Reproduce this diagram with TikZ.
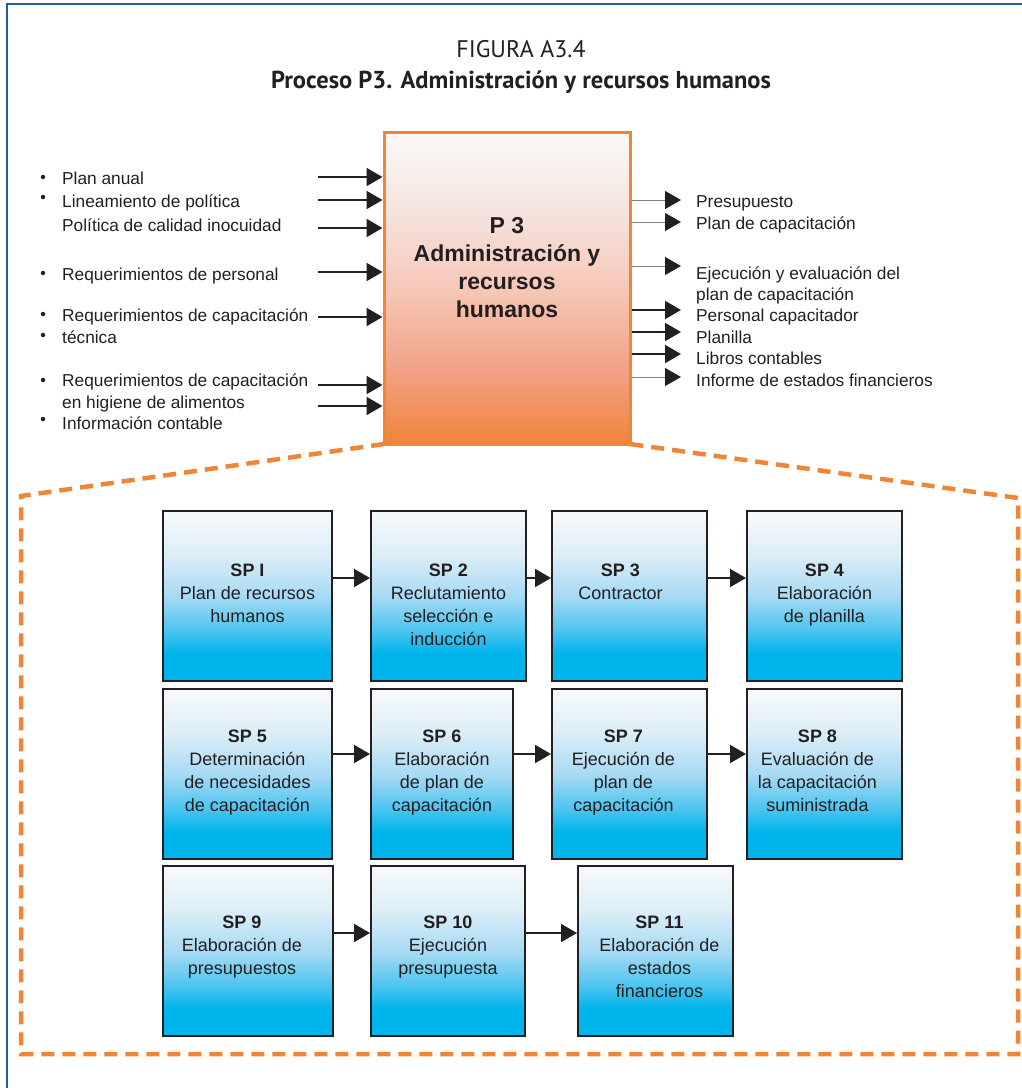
\documentclass[tikz,border=0pt]{standalone}
\usepackage{fontspec}
\setmainfont{Liberation Sans}
\newfontfamily\titlefont{PT Sans}
\usetikzlibrary{arrows.meta, positioning}

\definecolor{frameblue}{RGB}{32,92,162}
\definecolor{dashorange}{RGB}{240,133,53}
\definecolor{inkgray}{RGB}{35,31,32}
\definecolor{ptop}{HTML}{FAFAFA}
\definecolor{pmidA}{HTML}{F5E3DD}
\definecolor{pmidB}{HTML}{F6C8B8}
\definecolor{pmidC}{HTML}{F2A286}
\definecolor{pbot}{HTML}{F0843A}
\definecolor{stop}{HTML}{F8FAFC}
\definecolor{smidA}{HTML}{DCEEF7}
\definecolor{smidB}{HTML}{A8DAF4}
\definecolor{smidC}{HTML}{4EC5F0}
\definecolor{sbot}{HTML}{00B4EC}

\pgfdeclareverticalshading{pthreeshade}{100bp}{color(0bp)=(pbot); color(25bp)=(pbot); color(37bp)=(pmidC); color(50bp)=(pmidB); color(62bp)=(pmidA); color(75bp)=(ptop); color(100bp)=(ptop)}
\pgfdeclareverticalshading{spshade}{100bp}{color(0bp)=(sbot); color(25bp)=(sbot); color(33bp)=(sbot); color(40bp)=(smidC); color(50bp)=(smidB); color(62bp)=(smidA); color(75bp)=(stop); color(100bp)=(stop)}

\tikzset{
  pbox/.style={draw=dashorange, line width=3pt, shade, shading=pthreeshade, inner sep=0pt,
    minimum width=246pt, minimum height=312pt},
  ptext/.style={font=\fontsize{23}{28}\selectfont\bfseries, text=inkgray, align=center, inner sep=0pt},
  spbox/.style={draw=inkgray, line width=2pt, shade, shading=spshade, inner sep=0pt, minimum height=170pt},
  sptext/.style={font=\fontsize{18}{23}\selectfont, text=inkgray, align=center, inner sep=0pt},
  iotext/.style={font=\fontsize{17.3}{22}\selectfont, text=inkgray, anchor=base west, inner sep=0pt},
  bul/.style={circle, fill=inkgray, inner sep=0pt, minimum size=4.5pt},
  inarr/.style={line width=2pt, draw=inkgray, -{Triangle[length=16pt, width=18pt, color=inkgray]}},
  outthin/.style={line width=1pt, draw=gray, -{Triangle[length=16pt, width=18pt, color=inkgray]}},
  dashline/.style={draw=dashorange, line width=4.5pt, dash pattern=on 13pt off 8pt}
}

\begin{document}
\begin{tikzpicture}[x=1pt, y=-1pt]
  \useasboundingbox (0,0) rectangle (1022,1088);
  \draw[frameblue, line width=2.5pt] (7,4) rectangle (1060,1120);

  % titles
  \node[font=\titlefont\fontsize{24}{26}\selectfont, text=inkgray, anchor=base] (fig) at (521,57) {FIGURA A3.4};
  \node[font=\titlefont\fontsize{24.5}{28}\selectfont\bfseries, text=inkgray, anchor=base] (proc) at (521,88) {Proceso P3. Administración y recursos humanos};

  % dashed zoom outline
  \coordinate (dl) at (21,496);
  \coordinate (dr) at (1018,498);
  \draw[dashline] (384,444) -- (dl) -- (21,1054) -- (1018,1054) -- (dr) -- (630,444);

  % main process
  \node[pbox] (p3) at (507,288) {};
  \node[ptext, below=87pt of p3.north] (p3t) {P 3\\Administración y\\recursos\\humanos};

  % inputs
  \coordinate (in1) at (318,177);
  \coordinate (in2) at (318,200);
  \coordinate (in3) at (318,228);
  \coordinate (in4) at (318,272);
  \coordinate (in5) at (318,317);
  \coordinate (in6) at (318,385);
  \coordinate (in7) at (318,406);
  \draw[inarr] (in1) -- (in1 -| p3.west);
  \draw[inarr] (in2) -- (in2 -| p3.west);
  \draw[inarr] (in3) -- (in3 -| p3.west);
  \draw[inarr] (in4) -- (in4 -| p3.west);
  \draw[inarr] (in5) -- (in5 -| p3.west);
  \draw[inarr] (in6) -- (in6 -| p3.west);
  \draw[inarr] (in7) -- (in7 -| p3.west);

  \node[bul] (b1) at (43,177) {};
  \node[bul] (b2) at (43,197) {};
  \node[bul] (b4) at (43,273) {};
  \node[bul] (b5) at (43,314) {};
  \node[bul] (b6) at (43,335) {};
  \node[bul] (b7) at (43,380) {};
  \node[bul] (b9) at (43,419) {};
  \node[iotext] (ia) at (62,184) {Plan anual};
  \node[iotext] (ib) at (62,207) {Lineamiento de política};
  \node[iotext] (ic) at (62,231) {Política de calidad inocuidad};
  \node[iotext] (id) at (62,280) {Requerimientos de personal};
  \node[iotext] (ie) at (62,321) {Requerimientos de capacitación};
  \node[iotext] (if) at (62,343) {técnica};
  \node[iotext] (ig) at (62,386) {Requerimientos de capacitación};
  \node[iotext] (ih) at (62,408) {en higiene de alimentos};
  \node[iotext] (ii) at (62,429) {Información contable};

  % outputs
  \coordinate (out1) at (681,200);
  \coordinate (out2) at (681,222);
  \coordinate (out3) at (681,266);
  \coordinate (out4) at (681,310);
  \coordinate (out5) at (681,332);
  \coordinate (out6) at (681,354);
  \coordinate (out7) at (681,377);
  \draw[outthin] (out1 -| p3.east) -- (out1);
  \draw[outthin] (out2 -| p3.east) -- (out2);
  \draw[outthin] (out3 -| p3.east) -- (out3);
  \draw[inarr] (out4 -| p3.east) -- (out4);
  \draw[inarr] (out5 -| p3.east) -- (out5);
  \draw[inarr] (out6 -| p3.east) -- (out6);
  \draw[outthin] (out7 -| p3.east) -- (out7);

  \node[iotext] (oa) at (696,207) {Presupuesto};
  \node[iotext] (ob) at (696,229) {Plan de capacitación};
  \node[iotext] (oc) at (696,279) {Ejecución y evaluación del};
  \node[iotext] (od) at (696,300) {plan de capacitación};
  \node[iotext] (oe) at (696,321) {Personal capacitador};
  \node[iotext] (of) at (696,343) {Planilla};
  \node[iotext] (og) at (696,364) {Libros contables};
  \node[iotext] (oh) at (696,386) {Informe de estados financieros};

  % subprocesses, row 1
  \node[spbox, minimum width=169pt] (sp1) at (247.5,595.5) {};
  \node[spbox, minimum width=155pt] (sp2) at (448.5,595.5) {};
  \node[spbox, minimum width=155pt] (sp3) at (629.5,595.5) {};
  \node[spbox, minimum width=155pt] (sp4) at (824.5,595.5) {};
  \node[sptext, below=54pt of sp1.north] (t1) {\textbf{SP I}\\Plan de recursos\\humanos};
  \node[sptext, below=54pt of sp2.north] (t2) {\textbf{SP 2}\\Reclutamiento\\selección e\\inducción};
  \node[sptext, below=54pt of sp3.north, xshift=-9pt] (t3) {\textbf{SP 3}\\Contractor};
  \node[sptext, below=54pt of sp4.north] (t4) {\textbf{SP 4}\\Elaboración\\de planilla};
  \draw[inarr] ([yshift=17.5pt]sp1.east) -- ([yshift=17.5pt]sp2.west);
  \draw[inarr] ([yshift=17.5pt]sp2.east) -- ([yshift=17.5pt]sp3.west);
  \draw[inarr] ([yshift=17.5pt]sp3.east) -- ([yshift=17.5pt]sp4.west);

  % row 2
  \node[spbox, minimum width=169pt] (sp5) at (247.5,774) {};
  \node[spbox, minimum width=142pt] (sp6) at (442,774) {};
  \node[spbox, minimum width=155pt] (sp7) at (629.5,774) {};
  \node[spbox, minimum width=155pt] (sp8) at (824.5,774) {};
  \node[sptext, below=42pt of sp5.north] (t5) {\textbf{SP 5}\\Determinación\\de necesidades\\de capacitación};
  \node[sptext, below=42pt of sp6.north] (t6) {\textbf{SP 6}\\Elaboración\\de plan de\\capacitación};
  \node[sptext, below=42pt of sp7.north, xshift=-6pt] (t7) {\textbf{SP 7}\\Ejecución de\\plan de\\capacitación};
  \node[sptext, below=42pt of sp8.north, xshift=-7pt] (t8) {\textbf{SP 8}\\Evaluación de\\la capacitación\\suministrada};
  \draw[inarr] ([yshift=20pt]sp5.east) -- ([yshift=20pt]sp6.west);
  \draw[inarr] ([yshift=20pt]sp6.east) -- ([yshift=20pt]sp7.west);
  \draw[inarr] ([yshift=20pt]sp7.east) -- ([yshift=20pt]sp8.west);

  % row 3
  \node[spbox, minimum width=170pt] (sp9) at (248,951) {};
  \node[spbox, minimum width=154pt] (sp10) at (448,951) {};
  \node[spbox, minimum width=155pt] (sp11) at (655.5,951) {};
  \node[sptext, below=51pt of sp9.north, xshift=-6pt] (t9) {\textbf{SP 9}\\Elaboración de\\presupuestos};
  \node[sptext, below=51pt of sp10.north] (t10) {\textbf{SP 10}\\Ejecución\\presupuesta};
  \node[sptext, below=51pt of sp11.north, xshift=4pt] (t11) {\textbf{SP 11}\\Elaboración de\\estados\\financieros};
  \draw[inarr] ([yshift=18pt]sp9.east) -- ([yshift=18pt]sp10.west);
  \draw[inarr] ([yshift=18pt]sp10.east) -- ([yshift=18pt]sp11.west);
\end{tikzpicture}
\end{document}
